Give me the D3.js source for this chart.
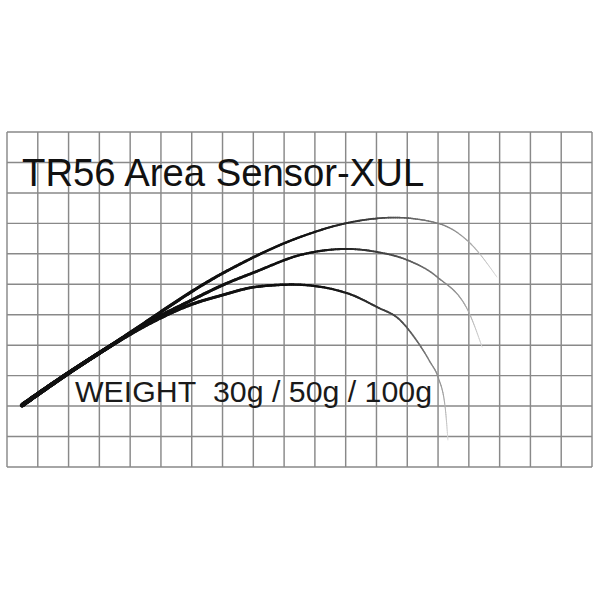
<!DOCTYPE html>
<html>
<head>
<meta charset="utf-8">
<script src="https://cdn.jsdelivr.net/npm/d3@7"></script>
<style>
  html, body { margin: 0; padding: 0; background: #fff; }
  svg { display: block; }
</style>
</head>
<body>
<svg id="chart" width="600" height="600"></svg>
<script>
// ---- data (grid units: x = columns from left, y = rows from top) ----
const gridCols = 19;
const gridRows = 11;
const title = "TR56 Area Sensor-XUL";
const weightLabel = "WEIGHT\u00a0\u00a030g / 50g / 100g";
const seriesNames = ["30g", "50g", "100g"];
const curve30g = [[0.49,8.97],[2.05,7.88],[3.35,7.03],[7.02,4.63],[9.52,3.45],[11.04,2.99],[12.60,2.81],[13.97,2.99],[15.04,3.65],[15.91,4.76]];
const curve50g = [[0.49,8.97],[2.05,7.88],[3.35,7.03],[4.32,6.40],[5.94,5.55],[7.02,5.02],[8.05,4.60],[9.52,4.04],[11.04,3.84],[12.02,3.94],[12.99,4.20],[13.97,4.76],[15.04,6.01],[15.43,7.06]];
const curve100g = [[0.49,8.97],[2.05,7.88],[3.35,7.03],[4.97,6.11],[5.94,5.68],[7.02,5.35],[8.05,5.09],[9.29,5.01],[11.04,5.29],[12.02,5.75],[12.76,6.17],[13.25,6.77],[13.74,7.55],[14.0,8.05],[14.23,9.03],[14.32,10.11]];
const curves = [curve30g, curve50g, curve100g];

(function () {
// ---- layout ----
const gLeft = 7, gRight = 592, gTop = 132, gBottom = 467;
const svg = d3.select("#chart");
const x = d3.scaleLinear().domain([0, gridCols]).range([gLeft, gRight]);
const y = d3.scaleLinear().domain([0, gridRows]).range([gTop, gBottom]);

// grid
const grid = svg.append("g").attr("stroke", "#898989").attr("stroke-width", 1.45).attr("fill", "none");
grid.selectAll("line.v").data(d3.range(0, gridCols + 1)).join("line")
  .attr("class", "v")
  .attr("x1", d => x(d)).attr("x2", d => x(d))
  .attr("y1", y(0)).attr("y2", y(gridRows));
grid.selectAll("line.h").data(d3.range(0, gridRows + 1)).join("line")
  .attr("class", "h")
  .attr("y1", d => y(d)).attr("y2", d => y(d))
  .attr("x1", x(0)).attr("x2", x(gridCols));

// curves with tapering width and fading tip
const line = d3.line().x(d => x(d[0])).y(d => y(d[1])).curve(d3.curveMonotoneX);
const defs = svg.append("g").attr("visibility", "hidden");
const curveLayer = svg.append("g").attr("fill", "none").attr("stroke-linecap", "round");
const fade = d3.interpolateRgb("#111111", "#d8d8d8");

curves.forEach((pts, ci) => {
  const p = defs.append("path").attr("d", line(pts)).node();
  const L = p.getTotalLength();
  const N = 300;
  const samples = d3.range(N + 1).map(i => {
    const pt = p.getPointAtLength(L * i / N);
    return [pt.x, pt.y, i / N];
  });
  const segs = d3.pairs(samples);
  curveLayer.append("g").attr("data-series", seriesNames[ci])
    .selectAll("line").data(segs).join("line")
    .attr("x1", d => d[0][0]).attr("y1", d => d[0][1])
    .attr("x2", d => d[1][0]).attr("y2", d => d[1][1])
    .attr("stroke-width", d => 4.4 - 3.6 * d[0][2])
    .attr("stroke", d => {
      const t = Math.max(0, (d[0][2] - 0.6) / 0.4);
      return fade(Math.pow(t, 1.3));
    });
});

// texts
svg.append("text")
  .attr("x", 22).attr("y", 186)
  .attr("font-family", "Liberation Sans, Arial, Helvetica, sans-serif")
  .attr("font-size", 38.3)
  .attr("fill", "#111")
  .text(title);

svg.append("text")
  .attr("x", 75).attr("y", 402)
  .attr("font-family", "Liberation Sans, Arial, Helvetica, sans-serif")
  .attr("font-size", 30.3)
  .attr("fill", "#1a1a1a")
  .text(weightLabel);
})();
</script>
</body>
</html>
